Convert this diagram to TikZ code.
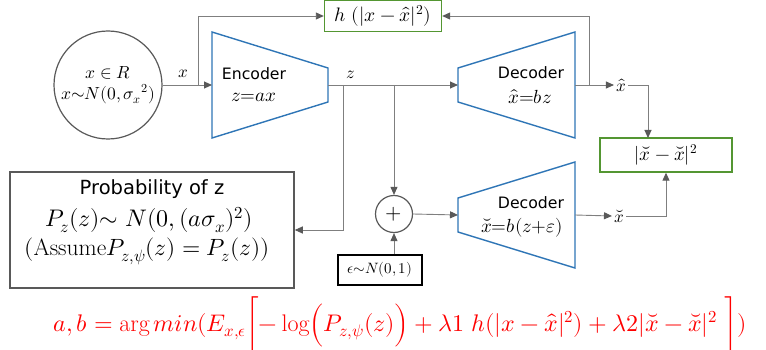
\documentclass[tikz,border=0pt]{standalone}
\usepackage{fontspec}
\usepackage{unicode-math}
\setmathfont{Latin Modern Math}
\setsansfont{DejaVu Sans}
\usetikzlibrary{arrows.meta}
\definecolor{lnc}{RGB}{127,127,127}
\definecolor{tipc}{RGB}{89,89,89}
\definecolor{encblue}{RGB}{46,117,182}
\definecolor{grn}{RGB}{84,150,50}
\definecolor{redf}{RGB}{255,0,0}
\tikzset{
  conn/.style={draw=lnc, line width=0.9pt, -{Triangle[length=8pt,width=7pt,color=tipc]}},
  trap/.style={draw=encblue, line width=1.4pt},
  gbox/.style={draw=grn, line width=1.4pt, inner sep=0pt},
  lbl/.style={inner sep=2pt, font=\fontsize{17}{19}\selectfont},
  sanstext/.style={inner sep=0pt, font=\sffamily\fontsize{15.7}{17}\selectfont, align=center},
  eqtext/.style={inner sep=0pt, font=\fontsize{19}{21}\selectfont}
}
\begin{document}
\begin{tikzpicture}[x=1pt,y=-1pt]
\useasboundingbox (0,0) rectangle (766,350);
% source circle
\node[circle, draw=tipc, line width=1.2pt, minimum size=108pt, inner sep=0pt, align=center,
  font=\fontsize{17.5}{22}\selectfont] (src) at (108,85) {$x\in R$\\[-1pt] $x{\sim}N(0,{\sigma_x}^2)$};
% encoder
\draw[trap] (212,32) -- (328,68) -- (328,102) -- (212,138) -- cycle;
\coordinate (encL) at (212,85);
\coordinate (encR) at (328,85);
\node[sanstext] (enctxt) at (254,74) {Encoder};
\node[eqtext] (enceq) at (254,97) {$z{=}ax$};
% decoder 1
\draw[trap] (458,68) -- (575,32) -- (575,138) -- (458,102) -- cycle;
\coordinate (d1L) at (458,85);
\coordinate (d1R) at (575,85);
\node[sanstext] (d1txt) at (531,73) {Decoder};
\node[eqtext] (d1eq) at (530,97) {$\hat{x}{=}bz$};
% decoder 2
\draw[trap] (458,198) -- (575,162) -- (575,268) -- (458,232) -- cycle;
\coordinate (d2L) at (458,215);
\coordinate (d2R) at (575,215);
\node[sanstext] (d2txt) at (531,203) {Decoder};
\node[eqtext] (d2eq) at (522,228) {$\breve{x}{=}b(z{+}\varepsilon)$};
% h box
\node[gbox, minimum width=117pt, minimum height=31pt, font=\fontsize{19.5}{21}\selectfont] (h) at (383,16) {$h\ (|x-\hat{x}|^2)$};
% loss box
\node[gbox, minimum width=132pt, minimum height=34pt, font=\fontsize{19}{21}\selectfont] (loss) at (666,155) {$|\breve{x}-\breve{x}|^2$};
% plus
\node[circle, draw=tipc, line width=1.2pt, minimum size=37pt, inner sep=0pt, font=\fontsize{21}{23}\selectfont] (plus) at (394,214) {$+$};
% eps box
\node[draw=black, line width=1.2pt, minimum width=84pt, minimum height=30pt, inner sep=0pt, font=\fontsize{15}{17}\selectfont] (eps) at (380,270) {$\epsilon{\sim}N(0,1)$};
% probability box
\node[draw=tipc, line width=1.5pt, minimum width=284pt, minimum height=116pt, inner sep=0pt] (prob) at (152,230) {};
\node[sanstext, font=\sffamily\fontsize{19.5}{21}\selectfont] (pt1) at (152,189) {Probability of z};
\node[inner sep=0pt, font=\fontsize{24}{26}\selectfont] (pt2) at (149,220) {$P_z(z){\sim}\ N(0,(a\sigma_x)^2)$};
\node[inner sep=0pt, font=\fontsize{23.5}{25}\selectfont] (pt3) at (147,251) {$(\mathrm{Assume}P_{z,\psi}(z)=P_z(z))$};
% labels
\node[lbl] (xhat) at (621,85) {$\hat{x}$};
\node[lbl] (xbr) at (619,216) {$\breve{x}$};
\node[lbl] (xl) at (183,74) {$x$};
\node[lbl] (zl) at (351,75) {$z$};
% branch coordinates
\coordinate (bx) at (198,85);
\coordinate (bz1) at (343,85);
\coordinate (bz2) at (394,85);
\coordinate (bxh) at (589,85);
\coordinate (lossin) at (648,138);
% connectors
\draw[conn] (src.east) -- (encL);
\draw[conn] (bx) |- (h.west);
\draw[conn] (encR) -- (d1L);
\draw[conn] (bz1) |- (prob.east);
\draw[conn] (bz2) -- (plus.north);
\draw[conn] (plus.east) -- (d2L);
\draw[conn] (plus.south |- eps.north) -- (plus.south);
\draw[conn] (d1R) -- (xhat.west);
\draw[conn] (bxh) |- (h.east);
\draw[conn] (xhat.east) -| (lossin);
\draw[conn] (d2R) -- (xbr.west);
\draw[conn] (xbr.east) -| (loss.south);
% formula
\node[text=redf, inner sep=0pt, font=\fontsize{24}{27}\selectfont] (obj) at (400,325)
 {$a,b=\arg min(E_{x,\epsilon}\biggl[-\log\Bigl(P_{z,\psi}(z)\Bigr)+\lambda 1\ h(|x-\hat{x}|^2)+\lambda 2|\breve{x}-\breve{x}|^2\ \biggr])$};
\end{tikzpicture}
\end{document}
